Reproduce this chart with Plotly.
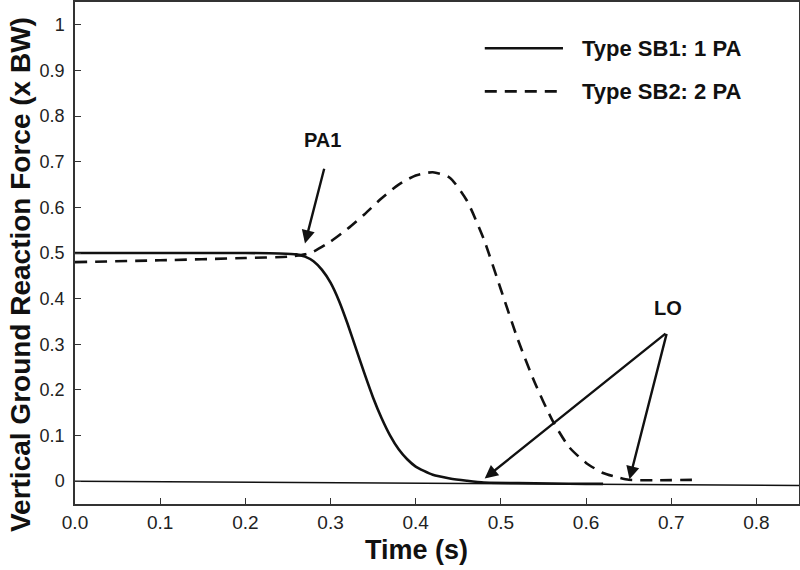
import plotly.graph_objects as go

# Type SB1: 1 PA (solid)
sb1_t = [0.0, 0.10, 0.20, 0.24, 0.26, 0.27, 0.28, 0.29, 0.30, 0.31, 0.32, 0.33, 0.34, 0.35, 0.36,
         0.37, 0.38, 0.39, 0.40, 0.42, 0.44, 0.46, 0.48, 0.52, 0.56, 0.60, 0.62]
sb1_f = [0.50, 0.50, 0.50, 0.499, 0.497, 0.492, 0.482, 0.463, 0.435, 0.395, 0.345, 0.29, 0.235, 0.183, 0.138,
         0.10, 0.07, 0.048, 0.032, 0.014, 0.006, 0.001, -0.003, -0.004, -0.005, -0.006, -0.006]

# Type SB2: 2 PA (dashed)
sb2_t = [0.0, 0.10, 0.20, 0.25, 0.27, 0.28, 0.30, 0.32, 0.34, 0.36, 0.38, 0.40, 0.42, 0.44, 0.46,
         0.48, 0.50, 0.52, 0.54, 0.56, 0.58, 0.60, 0.62, 0.64, 0.65, 0.68, 0.73]
sb2_f = [0.48, 0.484, 0.489, 0.492, 0.497, 0.503, 0.525, 0.553, 0.585, 0.62, 0.65, 0.67, 0.677, 0.665, 0.615,
         0.53, 0.42, 0.31, 0.215, 0.135, 0.075, 0.04, 0.018, 0.007, 0.003, 0.002, 0.003]

# zero reference line (slightly tilted in the original)
base_t = [0.0, 0.85]
base_f = [0.0, -0.0095]

x_ticks = [0.0, 0.1, 0.2, 0.3, 0.4, 0.5, 0.6, 0.7, 0.8]
x_tick_labels = ["0.0", "0.1", "0.2", "0.3", "0.4", "0.5", "0.6", "0.7", "0.8"]
y_ticks = [0, 0.1, 0.2, 0.3, 0.4, 0.5, 0.6, 0.7, 0.8, 0.9, 1.0]
y_tick_labels = ["0", "0.1", "0.2", "0.3", "0.4", "0.5", "0.6", "0.7", "0.8", "0.9", "1"]

legend_labels = ["Type SB1: 1 PA", "Type SB2: 2 PA"]

# annotation anchor points (time, force)
pa1_head = (0.27, 0.521)
pa1_tail = (0.293, 0.688)
pa1_text = (0.291, 0.747)
lo_vertex = (0.695, 0.326)
lo_heads = [(0.481, 0.006), (0.651, 0.004)]
lo_text = (0.696, 0.379)

FONT = "Liberation Sans, Arial, sans-serif"
INK = "#111111"

fig = go.Figure()
fig.add_trace(go.Scatter(x=base_t, y=base_f, mode="lines",
                         line=dict(color=INK, width=1.6), showlegend=False, hoverinfo="skip"))
fig.add_trace(go.Scatter(x=sb1_t, y=sb1_f, mode="lines", name=legend_labels[0],
                         line=dict(color=INK, width=2.6, shape="spline", smoothing=0.6), showlegend=False))
fig.add_trace(go.Scatter(x=sb2_t, y=sb2_f, mode="lines", name=legend_labels[1],
                         line=dict(color=INK, width=2.6, dash="12px,8px", shape="spline", smoothing=0.6),
                         showlegend=False))

# custom legend (paper coordinates)
leg_rows = [(0.908, "solid"), (0.822, "12px,8px")]
for (yy, dsh), lab in zip(leg_rows, legend_labels):
    fig.add_shape(type="line", xref="paper", yref="paper", x0=0.566, x1=0.674, y0=yy, y1=yy,
                  line=dict(color=INK, width=2.6, dash=dsh))
    fig.add_annotation(xref="paper", yref="paper", x=0.697, y=yy, text="<b>" + lab + "</b>", showarrow=False,
                       xanchor="left", yanchor="middle", font=dict(family=FONT, size=22, color=INK))

ann_font = dict(family=FONT, size=20, color=INK)
fig.add_annotation(x=pa1_text[0], y=pa1_text[1], text="<b>PA1</b>", showarrow=False, font=ann_font)
fig.add_annotation(x=pa1_head[0], y=pa1_head[1], ax=pa1_tail[0], ay=pa1_tail[1], axref="x", ayref="y",
                   text="", showarrow=True, arrowhead=2, arrowsize=1.1, arrowwidth=2.4, arrowcolor=INK)
fig.add_annotation(x=lo_text[0], y=lo_text[1], text="<b>LO</b>", showarrow=False, font=ann_font)
for hx, hy in lo_heads:
    fig.add_annotation(x=hx, y=hy, ax=lo_vertex[0], ay=lo_vertex[1], axref="x", ayref="y",
                       text="", showarrow=True, arrowhead=2, arrowsize=1.1, arrowwidth=2.4, arrowcolor=INK)

# axis titles placed as annotations
fig.add_annotation(xref="paper", yref="paper", x=0.472, y=-0.092, text="<b>Time (s)</b>", showarrow=False,
                   yanchor="middle", font=dict(family=FONT, size=27, color=INK))
fig.add_annotation(xref="paper", yref="paper", x=-0.076, y=0.458, text="<b>Vertical Ground Reaction Force (x BW)</b>",
                   showarrow=False, textangle=-90, xanchor="center", yanchor="middle",
                   font=dict(family=FONT, size=28, color=INK))

fig.update_xaxes(range=[0, 0.85], tickvals=x_ticks, ticktext=x_tick_labels, ticks="inside", ticklen=6,
                 tickcolor="#333", showline=True, linecolor="#333", linewidth=1.5, mirror=True,
                 showgrid=False, zeroline=False, automargin=False,
                 tickfont=dict(family=FONT, size=19, color="#222"))
fig.update_yaxes(range=[-0.05, 1.05], tickvals=y_ticks, ticktext=y_tick_labels, ticks="inside", ticklen=6,
                 tickcolor="#333", showline=True, linecolor="#333", linewidth=1.5, mirror=True,
                 showgrid=False, zeroline=False, automargin=False, ticklabelstandoff=5,
                 tickfont=dict(family=FONT, size=18, color="#222"))

fig.update_layout(width=800, height=570, margin=dict(l=75, r=1, t=2, b=66, autoexpand=False),
                  plot_bgcolor="white", paper_bgcolor="white", showlegend=False)

fig.write_html("out.html", config={"displayModeBar": False},
               post_script="document.body.style.margin='0';document.body.style.overflow='hidden';")
